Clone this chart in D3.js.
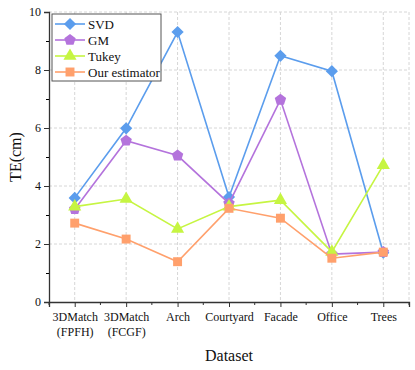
<!DOCTYPE html>
<html lang="en">
<head>
    <meta charset="UTF-8">
    <title>TE chart</title>
    <script src="https://cdn.jsdelivr.net/npm/d3@7"></script>
    <style>
        body { margin: 0; background: #fff; }
        text { font-family: "Liberation Serif", "Times New Roman", serif; fill: #111; }
    </style>
</head>
<body>
<script type="text/javascript">
    var categories = ["3DMatch\n(FPFH)", "3DMatch\n(FCGF)", "Arch", "Courtyard", "Facade", "Office", "Trees"];
    var seriesNames = ["SVD", "GM", "Tukey", "Our estimator"];
    var svdValues = [3.59, 5.99, 9.31, 3.62, 8.49, 7.96, 1.70];
    var gmValues = [3.20, 5.56, 5.05, 3.40, 6.97, 1.65, 1.72];
    var tukeyValues = [3.29, 3.55, 2.52, 3.29, 3.51, 1.73, 4.72];
    var ourValues = [2.72, 2.17, 1.39, 3.23, 2.89, 1.51, 1.72];
    var yTicks = [0, 2, 4, 6, 8, 10];

    var width = 415;
    var height = 370;
    var margin = {top: 12, right: 6, bottom: 68, left: 49};
    var plotW = width - margin.left - margin.right;
    var plotH = height - margin.top - margin.bottom;
    var serif = '"Liberation Serif", "Times New Roman", serif';

    var colors = ["#5b9ded", "#b473dc", "#c6f542", "#ffa06c"];
    var shapes = [d3.symbolDiamond2, "pentagon", d3.symbolTriangle, d3.symbolSquare];
    var allSeries = [svdValues, gmValues, tukeyValues, ourValues];

    var svg = d3.select("body").append("svg")
            .attr("width", width)
            .attr("height", height);

    var g = svg.append("g")
            .attr("transform", "translate(" + margin.left + "," + margin.top + ")");

    var xScale = d3.scalePoint()
            .domain(d3.range(categories.length))
            .range([0, plotW])
            .padding(0.5);
    var step = xScale.step();

    var yScale = d3.scaleLinear()
            .domain([0, 10])
            .range([plotH, 0]);

    // grid
    g.selectAll(".hgrid")
            .data(yTicks.filter(function (d) { return d > 0; }))
            .enter().append("line")
            .attr("x1", 0).attr("x2", plotW)
            .attr("y1", function (d) { return yScale(d); })
            .attr("y2", function (d) { return yScale(d); })
            .attr("stroke", "#d6d6d6").attr("stroke-dasharray", "3,2");
    g.selectAll(".vgrid")
            .data(d3.range(categories.length))
            .enter().append("line")
            .attr("x1", function (d) { return xScale(d); })
            .attr("x2", function (d) { return xScale(d); })
            .attr("y1", 0).attr("y2", plotH)
            .attr("stroke", "#d6d6d6").attr("stroke-dasharray", "3,2");
    g.append("line")
            .attr("x1", plotW).attr("x2", plotW).attr("y1", 0).attr("y2", plotH)
            .attr("stroke", "#d6d6d6").attr("stroke-dasharray", "3,2");

    // axes
    var yAxis = d3.axisLeft(yScale).tickValues(yTicks).tickSize(5).tickPadding(3);
    var yAxisG = g.append("g").call(yAxis).attr("font-family", serif);
    yAxisG.selectAll("text").style("font-size", "12px");
    var yMinor = d3.axisLeft(yScale).tickValues([1, 3, 5, 7, 9]).tickSize(3).tickFormat("");
    g.append("g").call(yMinor).select(".domain").remove();

    var xAxis = d3.axisBottom(xScale).tickSize(5).tickFormat("");
    var xAxisG = g.append("g").attr("transform", "translate(0," + plotH + ")").call(xAxis).attr("font-family", serif);
    var minorX = d3.range(categories.length + 1).map(function (i) { return i * step; });
    var xMinorG = g.append("g").attr("transform", "translate(0," + plotH + ")");
    xMinorG.selectAll("line").data(minorX).enter().append("line")
            .attr("x1", function (d) { return d; }).attr("x2", function (d) { return d; })
            .attr("y1", 0).attr("y2", 3).attr("stroke", "#333");

    [yAxisG, xAxisG].forEach(function (a) {
        a.select(".domain").attr("stroke", "#333").attr("stroke-width", 1.3);
        a.selectAll(".tick line").attr("stroke", "#333");
    });

    // x labels (two lines)
    xAxisG.selectAll(".tick").each(function (d) {
        var t = d3.select(this).append("text")
                .attr("y", 19)
                .attr("text-anchor", "middle")
                .style("font-size", "12px")
                .attr("fill", "#111");
        categories[d].split("\n").forEach(function (line, i) {
            t.append("tspan").attr("x", 0).attr("dy", i === 0 ? 0 : 15).text(line);
        });
    });

    // axis titles
    svg.append("text")
            .attr("x", margin.left + plotW / 2)
            .attr("y", 361)
            .attr("text-anchor", "middle")
            .style("font-size", "16px")
            .text("Dataset");
    svg.append("text")
            .attr("transform", "translate(21," + (margin.top + plotH / 2) + ") rotate(-90)")
            .attr("text-anchor", "middle")
            .style("font-size", "16px")
            .text("TE(cm)");

    function pentagon(r) {
        var pts = d3.range(5).map(function (i) {
            var a = -Math.PI / 2 + i * 2 * Math.PI / 5;
            return [r * Math.cos(a), r * Math.sin(a)];
        });
        return "M" + pts.join("L") + "Z";
    }
    function markerPath(k) {
        if (shapes[k] === "pentagon") return pentagon(6);
        var sizes = [95, 0, 75, 80];
        return d3.symbol().type(shapes[k]).size(sizes[k])();
    }

    var line = d3.line()
            .x(function (d, i) { return xScale(i); })
            .y(function (d) { return yScale(d); });

    allSeries.forEach(function (vals, k) {
        var sg = g.append("g");
        sg.append("path")
                .datum(vals)
                .attr("d", line)
                .attr("fill", "none")
                .attr("stroke", colors[k])
                .attr("stroke-width", 1.6);
        sg.selectAll("path.m")
                .data(vals)
                .enter().append("path")
                .attr("class", "m")
                .attr("transform", function (d, i) { return "translate(" + xScale(i) + "," + yScale(d) + ")"; })
                .attr("d", markerPath(k))
                .attr("fill", colors[k]);
    });

    // legend
    var legend = svg.append("g").attr("transform", "translate(52,14)");
    legend.append("rect")
            .attr("width", 109).attr("height", 67)
            .attr("fill", "#fff").attr("stroke", "#555").attr("stroke-width", 1);
    seriesNames.forEach(function (name, k) {
        var yy = 10 + k * 16;
        legend.append("line")
                .attr("x1", 3).attr("x2", 33).attr("y1", yy).attr("y2", yy)
                .attr("stroke", colors[k]).attr("stroke-width", 1.6);
        legend.append("path")
                .attr("transform", "translate(18," + yy + ")")
                .attr("d", markerPath(k))
                .attr("fill", colors[k]);
        legend.append("text")
                .attr("x", 36).attr("y", yy + 5)
                .style("font-size", "13px")
                .text(name);
    });
</script>
</body>
</html>
